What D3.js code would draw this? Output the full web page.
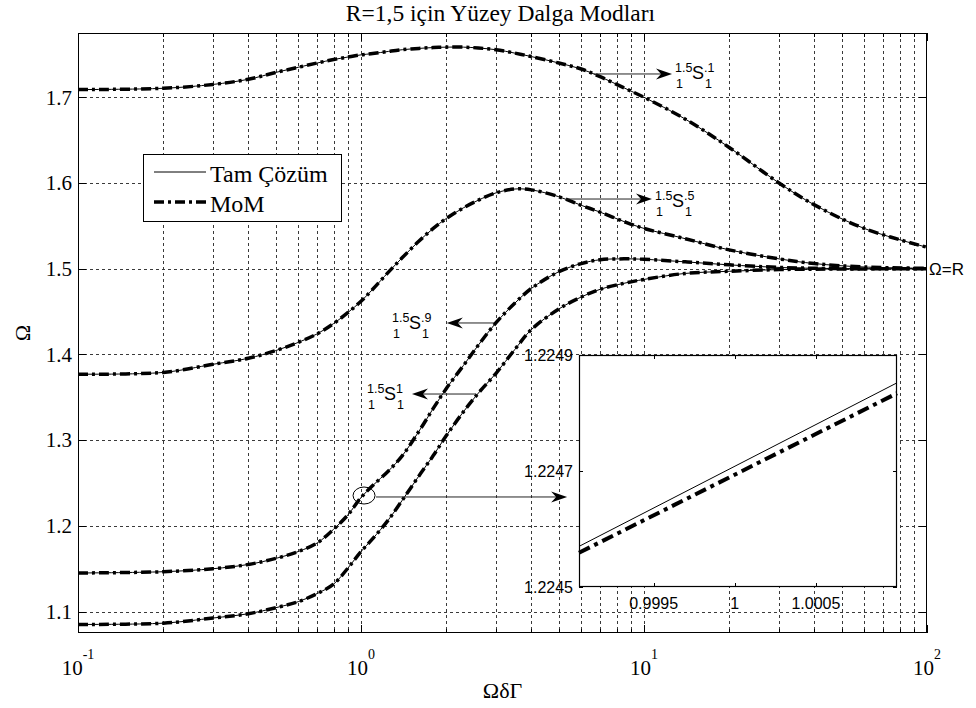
<!DOCTYPE html>
<html><head><meta charset="utf-8">
<script src="https://cdn.jsdelivr.net/npm/d3@7"></script>
<style>body{margin:0;background:#fff}svg{display:block}</style>
</head><body>
<svg id="chart" width="976" height="708"></svg>
<script>
// ---------- data ----------
const omegaDeltaGamma = [0.1,0.2,0.3,0.4,0.5,0.6,0.7,0.8,0.9,1,1.1,1.25,1.4,1.6,1.8,2,2.3,2.6,3,3.5,4,5,6,7,8.5,10,14,20,30,40,60,100];
// mode 1.5/1 S 1 ^ .1 (top)
const modeP1 = [1.709,1.7105,1.715,1.721,1.729,1.735,1.740,1.744,1.747,1.7495,1.751,1.7535,1.7555,1.757,1.758,1.7585,1.7585,1.7575,1.7555,1.7515,1.7475,1.740,1.733,1.724,1.711,1.700,1.6745,1.6415,1.600,1.5745,1.547,1.525];
// mode ^ .5
const modeP5 = [1.377,1.379,1.3885,1.3955,1.4045,1.414,1.424,1.436,1.449,1.462,1.476,1.496,1.513,1.532,1.547,1.5585,1.571,1.580,1.5885,1.593,1.592,1.584,1.574,1.566,1.555,1.547,1.535,1.522,1.5115,1.506,1.502,1.5005];
// mode ^ .9
const modeP9 = [1.145,1.1465,1.15,1.155,1.162,1.17,1.18,1.196,1.213,1.233,1.247,1.264,1.282,1.310,1.337,1.360,1.387,1.411,1.437,1.460,1.477,1.4965,1.506,1.5105,1.5115,1.511,1.508,1.5045,1.5015,1.5005,1.5,1.5];
// mode ^ 1
const modeP10 = [1.085,1.0865,1.0925,1.0975,1.1045,1.1115,1.121,1.132,1.151,1.17,1.185,1.207,1.23,1.258,1.282,1.305,1.333,1.355,1.378,1.406,1.429,1.453,1.467,1.476,1.483,1.4875,1.4945,1.497,1.499,1.4995,1.4998,1.5];
const exactSeries = [modeP1, modeP5, modeP9, modeP10];
const momSeries = [modeP1, modeP5, modeP9, modeP10];

const yTickValues = [1.1,1.2,1.3,1.4,1.5,1.6,1.7];
const xMajorTicks = [0.1,1,10,100];
const xTickExponents = ["-1","0","1","2"];

// inset (zoom around Ω δΓ = 1)
const insetX = [0.99904, 1.001];
const insetExact = [1.22457, 1.224852];
const insetMoM = [1.224559, 1.224834];
const insetXTicks = [0.9995, 1, 1.0005];
const insetXTickLabels = ["0.9995","1","1.0005"];
const insetYTicks = [1.2245, 1.2247, 1.2249];
const insetYTickLabels = ["1.2245","1.2247","1.2249"];

// annotations (data coordinates)
const arrows = [
  {from:[6.65,1.7272], to:[12.56,1.7272]},
  {from:[5.3,1.5813], to:[10.67,1.5813]},
  {from:[2.95,1.4367], to:[2.01,1.4367]},
  {from:[2.55,1.3538], to:[1.514,1.3538]},
  {from:[1.13,1.2337], to:[5.35,1.2337]}
];
const modeLabels = [
  {at:[12.87,1.7213], sup:".1"},
  {at:[10.94,1.572], sup:".5"},
  {at:[1.287,1.4297], sup:".9"},
  {at:[1.050,1.3468], sup:"1"}
];
const circleMark = {at:[1.025,1.2354]};

// ---------- chart ----------
const W=976,H=708;
const P={left:78,right:927,top:33,bottom:633};
const serif='"Liberation Serif","Times New Roman",serif';
const sans='"Liberation Sans",Arial,sans-serif';
const x=d3.scaleLog().domain([0.1,100]).range([P.left,P.right]);
const y=d3.scaleLinear().domain([1.075,1.775]).range([P.bottom,P.top]);
const svg=d3.select('#chart');
svg.append('rect').attr('width',W).attr('height',H).attr('fill','#fff');

const gridColor='#3a3a3a', gridDash='3,3';
const g=svg.append('g');
const xAll=x.ticks();
g.selectAll('line.vg').data(xAll.filter(d=>d>0.1&&d<100)).enter().append('line')
 .attr('x1',d=>Math.round(x(d))+0.5).attr('x2',d=>Math.round(x(d))+0.5)
 .attr('y1',P.top).attr('y2',P.bottom)
 .attr('stroke',gridColor).attr('stroke-width',1).attr('stroke-dasharray',gridDash);
g.selectAll('line.hg').data(yTickValues).enter().append('line')
 .attr('y1',d=>Math.round(y(d))+0.5).attr('y2',d=>Math.round(y(d))+0.5)
 .attr('x1',P.left).attr('x2',P.right)
 .attr('stroke',gridColor).attr('stroke-width',1).attr('stroke-dasharray',gridDash);

// curves
const line=d3.line().x((d,i)=>x(omegaDeltaGamma[i])).y(d=>y(d)).curve(d3.curveCatmullRom.alpha(0.5));
const dashDot='10,4,3,4';
exactSeries.forEach(s=>{
  svg.append('path').attr('d',line(s)).attr('fill','none').attr('stroke','#000').attr('stroke-width',1);
});
momSeries.forEach(s=>{
  svg.append('path').attr('d',line(s)).attr('fill','none').attr('stroke','#000').attr('stroke-width',3.5).attr('stroke-dasharray',dashDot);
});

// axes box and ticks
const ax=svg.append('g');
ax.append('rect').attr('x',P.left+0.5).attr('y',P.top+0.5).attr('width',P.right-P.left-1).attr('height',P.bottom-P.top-1)
 .attr('fill','none').attr('stroke','#000').attr('stroke-width',1);
xAll.forEach(d=>{
  const major=xMajorTicks.some(m=>Math.abs(m-d)<1e-9);
  const L=major?8:4, xx=Math.round(x(d))+0.5;
  ax.append('line').attr('x1',xx).attr('x2',xx).attr('y1',P.bottom).attr('y2',P.bottom-L).attr('stroke','#000');
  ax.append('line').attr('x1',xx).attr('x2',xx).attr('y1',P.top).attr('y2',P.top+L).attr('stroke','#000');
});
yTickValues.forEach(d=>{
  const yy=Math.round(y(d))+0.5;
  ax.append('line').attr('x1',P.left).attr('x2',P.left+8).attr('y1',yy).attr('y2',yy).attr('stroke','#000');
  ax.append('line').attr('x1',P.right).attr('x2',P.right-8).attr('y1',yy).attr('y2',yy).attr('stroke','#000');
  ax.append('text').attr('x',P.left-6).attr('y',y(d)).attr('dy','0.35em').attr('text-anchor','end')
   .attr('font-family',serif).attr('font-size',21).text(d.toFixed(1));
});
xMajorTicks.forEach((d,i)=>{
  const t=ax.append('text').attr('x',x(d)).attr('y',675).attr('text-anchor','middle')
   .attr('font-family',serif).attr('font-size',21);
  t.append('tspan').text('10');
  t.append('tspan').attr('dy',-16).attr('font-size',14).text(xTickExponents[i]);
});
// axis labels & title
svg.append('text').attr('x',(P.left+P.right)/2).attr('y',698).attr('text-anchor','middle')
 .attr('font-family',serif).attr('font-size',22).text('ΩδΓ');
svg.append('text').attr('transform',`translate(30,${(P.top+P.bottom)/2}) rotate(-90)`).attr('text-anchor','middle')
 .attr('font-family',serif).attr('font-size',22).text('Ω');
svg.append('text').attr('x',(P.left+P.right)/2-2).attr('y',21).attr('text-anchor','middle')
 .attr('font-family',serif).attr('font-size',23.5).text('R=1,5 için Yüzey Dalga Modları');

// Ω=R
svg.append('text').attr('x',x(100)+2).attr('y',y(1.5)).attr('dy','0.35em')
 .attr('font-family',sans).attr('font-size',17).text('Ω=R');

// legend
const lg=svg.append('g');
lg.append('rect').attr('x',143.5).attr('y',154.5).attr('width',198).attr('height',67).attr('fill','#fff').attr('stroke','#000');
lg.append('line').attr('x1',154).attr('x2',206).attr('y1',172).attr('y2',172).attr('stroke','#000').attr('stroke-width',1);
lg.append('line').attr('x1',154).attr('x2',206).attr('y1',202).attr('y2',202).attr('stroke','#000').attr('stroke-width',3.5).attr('stroke-dasharray',dashDot);
lg.append('text').attr('x',210).attr('y',182).attr('font-family',serif).attr('font-size',24).text('Tam Çözüm');
lg.append('text').attr('x',210).attr('y',212).attr('font-family',serif).attr('font-size',24).text('MoM');

// arrows
function arrow(a){
  const x1=x(a.from[0]),y1=y(a.from[1]),x2=x(a.to[0]),y2=y(a.to[1]);
  const ang=Math.atan2(y2-y1,x2-x1),L=16,Wd=5.5,N=5;
  const c=Math.cos(ang),s=Math.sin(ang);
  const bx=x2-L*c,by=y2-L*s;
  svg.append('line').attr('x1',x1).attr('y1',y1).attr('x2',x2-(L-N)*c).attr('y2',y2-(L-N)*s).attr('stroke','#222').attr('stroke-width',1);
  const pts=[[x2,y2],[bx-Wd*s,by+Wd*c],[x2-(L-N)*c,y2-(L-N)*s],[bx+Wd*s,by-Wd*c]];
  svg.append('path').attr('d','M'+pts.map(p=>p.join(',')).join('L')+'Z').attr('fill','#000');
}
arrows.forEach(arrow);
svg.append('ellipse').attr('cx',x(circleMark.at[0])).attr('cy',y(circleMark.at[1])).attr('rx',11).attr('ry',8.5)
 .attr('fill','none').attr('stroke','#000').attr('stroke-width',1);

// mode labels
modeLabels.forEach(m=>{
  const x0=x(m.at[0]),b=y(m.at[1]);
  const t=(xx,yy,fs,txt)=>svg.append('text').attr('x',xx).attr('y',yy).attr('font-family',sans).attr('font-size',fs).text(txt);
  t(x0,b-7,12.5,'1.5');
  t(x0+1,b+9,12.5,'1');
  t(x0+17,b,18,'S');
  t(x0+30,b+9,12.5,'1');
  t(x0+29,b-7,12.5,m.sup);
});

// inset
const I={left:579,right:897,top:355,bottom:587};
const ix=d3.scaleLinear().domain(insetX).range([I.left,I.right]);
const iy=d3.scaleLinear().domain([1.2245,1.2249]).range([I.bottom,I.top]);
const ig=svg.append('g');
ig.append('rect').attr('x',I.left).attr('y',I.top).attr('width',I.right-I.left).attr('height',I.bottom-I.top).attr('fill','#fff');
const iline=d3.line().x((d,i)=>ix(insetX[i])).y(d=>iy(d));
ig.append('path').attr('d',iline(insetExact)).attr('fill','none').attr('stroke','#000').attr('stroke-width',1);
ig.append('path').attr('d',iline(insetMoM)).attr('fill','none').attr('stroke','#000').attr('stroke-width',4).attr('stroke-dasharray','12,5,4,5');
ig.append('rect').attr('x',I.left+0.5).attr('y',I.top+0.5).attr('width',I.right-I.left-1).attr('height',I.bottom-I.top-1).attr('fill','none').attr('stroke','#000').attr('stroke-width',1.2);
insetXTicks.forEach((d,i)=>{
  const xx=Math.round(ix(d))+0.5;
  ig.append('line').attr('x1',xx).attr('x2',xx).attr('y1',I.bottom).attr('y2',I.bottom-4).attr('stroke','#000');
  ig.append('line').attr('x1',xx).attr('x2',xx).attr('y1',I.top).attr('y2',I.top+4).attr('stroke','#000');
  ig.append('text').attr('x',ix(d)).attr('y',609).attr('text-anchor','middle').attr('font-family',sans).attr('font-size',16).text(insetXTickLabels[i]);
});
insetYTicks.forEach((d,i)=>{
  const yy=Math.round(iy(d))+0.5;
  ig.append('line').attr('x1',I.left).attr('x2',I.left+4).attr('y1',yy).attr('y2',yy).attr('stroke','#000');
  ig.append('line').attr('x1',I.right).attr('x2',I.right-4).attr('y1',yy).attr('y2',yy).attr('stroke','#000');
  ig.append('text').attr('x',I.left-6).attr('y',iy(d)).attr('dy','0.35em').attr('text-anchor','end').attr('font-family',sans).attr('font-size',16).text(insetYTickLabels[i]);
});
</script>
</body></html>
